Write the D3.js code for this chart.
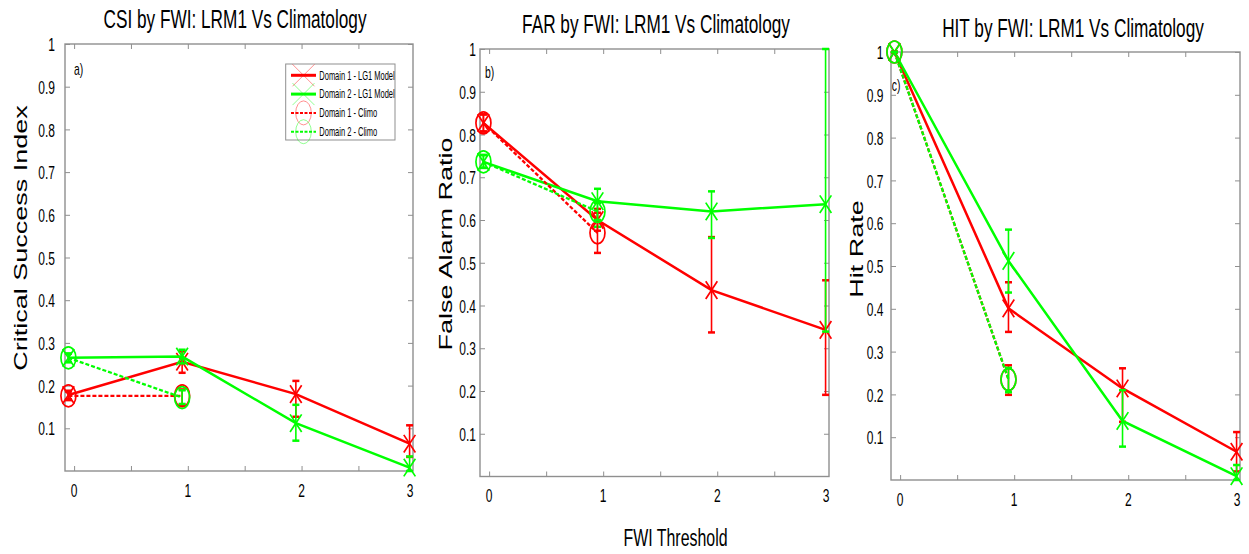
<!DOCTYPE html>
<html><head><meta charset="utf-8">
<script src="https://cdn.jsdelivr.net/npm/d3@7"></script>
<style>
body{margin:0;background:#fff}
svg{display:block}
text{font-family:"Liberation Sans",Arial,Helvetica,sans-serif;fill:#000}
</style>
</head><body>
<svg id="chart" width="1249" height="554"></svg>
<script>
// ---------------- DATA ----------------
const thresholds = [0, 1, 2, 3];
const climoThresholds = [0, 1];
const xTickLabels = ["0", "1", "2", "3"];
const yTickValues = [0.1, 0.2, 0.3, 0.4, 0.5, 0.6, 0.7, 0.8, 0.9, 1.0];
const yTickLabels = ["0.1", "0.2", "0.3", "0.4", "0.5", "0.6", "0.7", "0.8", "0.9", "1"];
const xMinorTicks = [0, 0.5, 1, 1.5, 2, 2.5];
const seriesNames = ["Domain 1 - LG1 Model", "Domain 2 - LG1 Model", "Domain 1 - Climo", "Domain 2 - Climo"];
const panelTitles = ["CSI by FWI: LRM1 Vs Climatology", "FAR by FWI: LRM1 Vs Climatology", "HIT by FWI: LRM1 Vs Climatology"];
const panelYLabels = ["Critical Success Index", "False Alarm Ratio", "Hit Rate"];
const panelLetters = ["a)", "b)", "c)"];
const xAxisLabel = "FWI Threshold";

// CSI
const csiD1Model   = [0.178, 0.256, 0.180, 0.064];
const csiD1ModelLo = [0.168, 0.230, 0.127, 0.033];
const csiD1ModelHi = [0.188, 0.280, 0.211, 0.107];
const csiD2Model   = [0.265, 0.268, 0.112, 0.008];
const csiD2ModelLo = [0.255, 0.252, 0.071, 0.000];
const csiD2ModelHi = [0.275, 0.284, 0.155, 0.034];
const csiD1Climo   = [0.176, 0.176];
const csiD1ClimoLo = [0.166, 0.155];
const csiD1ClimoHi = [0.186, 0.191];
const csiD2Climo   = [0.265, 0.172];
const csiD2ClimoLo = [0.255, 0.157];
const csiD2ClimoHi = [0.275, 0.189];

// FAR
const farD1Model   = [0.827, 0.600, 0.436, 0.343];
const farD1ModelLo = [0.807, 0.575, 0.337, 0.191];
const farD1ModelHi = [0.847, 0.626, 0.560, 0.459];
const farD2Model   = [0.736, 0.644, 0.620, 0.637];
const farD2ModelLo = [0.722, 0.584, 0.558, 0.339];
const farD2ModelHi = [0.752, 0.673, 0.667, 1.000];
const farD1Climo   = [0.827, 0.570];
const farD1ClimoLo = [0.807, 0.523];
const farD1ClimoHi = [0.847, 0.617];
const farD2Climo   = [0.736, 0.620];
const farD2ClimoLo = [0.722, 0.600];
const farD2ClimoHi = [0.752, 0.640];

// HIT
const hitD1Model   = [1.000, 0.401, 0.214, 0.066];
const hitD1ModelLo = [1.000, 0.346, 0.136, 0.020];
const hitD1ModelHi = [1.000, 0.462, 0.261, 0.112];
const hitD2Model   = [1.000, 0.512, 0.138, 0.009];
const hitD2ModelLo = [1.000, 0.438, 0.078, 0.000];
const hitD2ModelHi = [1.000, 0.585, 0.210, 0.035];
const hitD1Climo   = [1.000, 0.235];
const hitD1ClimoLo = [1.000, 0.199];
const hitD1ClimoHi = [1.000, 0.268];
const hitD2Climo   = [1.000, 0.235];
const hitD2ClimoLo = [1.000, 0.205];
const hitD2ClimoHi = [1.000, 0.262];

// ---------------- STYLE / LAYOUT ----------------
const RED = "#ff0000", GREEN = "#00ff00";
const SX = 0.65;            // horizontal text compression seen in the picture
const X_OFFSET = -0.05;     // points sit slightly left of their tick
const xDomain = [-0.08, 2.98];
const FONT = '"Liberation Sans",Arial,Helvetica,sans-serif';

const layout = [
  {left: 65,  top: 44, w: 348, h: 427,   yGap: 10,  ylx: 27,  yly: 238, tx: 235,  ty: 28.3, lx: 74,  ly: 74.5},
  {left: 480, top: 49, w: 349, h: 427.5, yGap: 4,   ylx: 452, yly: 244, tx: 656,  ty: 33.3, lx: 485, ly: 77.5},
  {left: 891, top: 52, w: 349, h: 428,   yGap: 7.5, ylx: 862.5, yly: 249, tx: 1073, ty: 37.3, lx: 891.7, ly: 91}
];

const panelData = [
  [
    {xs: thresholds, v: csiD1Model, lo: csiD1ModelLo, hi: csiD1ModelHi, color: RED, dash: false, marker: "x"},
    {xs: thresholds, v: csiD2Model, lo: csiD2ModelLo, hi: csiD2ModelHi, color: GREEN, dash: false, marker: "x"},
    {xs: climoThresholds, v: csiD1Climo, lo: csiD1ClimoLo, hi: csiD1ClimoHi, color: RED, dash: true, marker: "o"},
    {xs: climoThresholds, v: csiD2Climo, lo: csiD2ClimoLo, hi: csiD2ClimoHi, color: GREEN, dash: true, marker: "o"}
  ],
  [
    {xs: thresholds, v: farD1Model, lo: farD1ModelLo, hi: farD1ModelHi, color: RED, dash: false, marker: "x"},
    {xs: thresholds, v: farD2Model, lo: farD2ModelLo, hi: farD2ModelHi, color: GREEN, dash: false, marker: "x"},
    {xs: climoThresholds, v: farD1Climo, lo: farD1ClimoLo, hi: farD1ClimoHi, color: RED, dash: true, marker: "o"},
    {xs: climoThresholds, v: farD2Climo, lo: farD2ClimoLo, hi: farD2ClimoHi, color: GREEN, dash: true, marker: "o"}
  ],
  [
    {xs: thresholds, v: hitD1Model, lo: hitD1ModelLo, hi: hitD1ModelHi, color: RED, dash: false, marker: "x"},
    {xs: thresholds, v: hitD2Model, lo: hitD2ModelLo, hi: hitD2ModelHi, color: GREEN, dash: false, marker: "x"},
    {xs: climoThresholds, v: hitD1Climo, lo: hitD1ClimoLo, hi: hitD1ClimoHi, color: RED, dash: true, marker: "o"},
    {xs: climoThresholds, v: hitD2Climo, lo: hitD2ClimoLo, hi: hitD2ClimoHi, color: GREEN, dash: true, marker: "o"}
  ]
];

const svg = d3.select("#chart");

function txt(g, x, y, s, size, anchor, rot, sx) {
  const k = sx || SX;
  return g.append("text")
    .attr("font-size", size)
    .attr("text-anchor", anchor || "start")
    .attr("transform", rot
      ? `translate(${x},${y}) rotate(-90) scale(1,${k})`
      : `translate(${x},${y}) scale(${k},1)`)
    .text(s);
}

function xMarkPath(cx, cy, hw, hh) {
  return `M${cx - hw},${cy - hh}L${cx + hw},${cy + hh}M${cx - hw},${cy + hh}L${cx + hw},${cy - hh}`;
}

function drawPanel(pi) {
  const p = layout[pi];
  const g = svg.append("g");
  const x = d3.scaleLinear().domain(xDomain).range([p.left, p.left + p.w]);
  const y = d3.scaleLinear().domain([0, 1]).range([p.top + p.h, p.top]);
  const bottom = p.top + p.h, right = p.left + p.w;

  // box
  g.append("rect").attr("x", p.left).attr("y", p.top).attr("width", p.w).attr("height", p.h)
    .attr("fill", "none").attr("stroke", "#8f8f8f").attr("stroke-width", 1.4);

  // inward ticks
  const tickStyle = sel => { sel.select(".domain").remove(); sel.selectAll("line").attr("stroke", "#8f8f8f").attr("stroke-width", 1); sel.selectAll("text").remove(); };
  g.append("g").attr("transform", `translate(0,${bottom})`).call(d3.axisBottom(x).tickValues(xMinorTicks).tickSize(-5)).call(tickStyle);
  g.append("g").attr("transform", `translate(0,${p.top})`).call(d3.axisTop(x).tickValues(xMinorTicks).tickSize(-5)).call(tickStyle);
  g.append("g").attr("transform", `translate(${p.left},0)`).call(d3.axisLeft(y).tickValues(yTickValues).tickSize(-5)).call(tickStyle);
  g.append("g").attr("transform", `translate(${right},0)`).call(d3.axisRight(y).tickValues(yTickValues).tickSize(-5)).call(tickStyle);

  // y tick labels
  const gy = g.append("g").attr("transform", `translate(${p.left},0)`)
    .call(d3.axisLeft(y).tickValues(yTickValues).tickSize(0).tickPadding(p.yGap).tickFormat((d, i) => yTickLabels[i]));
  gy.select(".domain").remove();
  gy.attr("font-family", FONT).attr("font-size", 18.5);
  gy.selectAll("text").attr("fill", "#111").attr("x", -p.yGap / SX).attr("dy", "0.36em").attr("transform", `scale(${SX},1)`);

  // x tick labels
  const gx = g.append("g").attr("transform", `translate(0,${bottom})`)
    .call(d3.axisBottom(x).tickValues(thresholds).tickSize(0).tickPadding(0).tickFormat((d, i) => xTickLabels[i]));
  gx.select(".domain").remove();
  gx.attr("font-family", FONT).attr("font-size", 18.5);
  gx.selectAll(".tick").attr("transform", d => `translate(${Math.min(x(d), right - 3)},0)`);
  gx.selectAll("text").attr("fill", "#111").attr("y", 26).attr("dy", 0).attr("transform", `scale(${SX},1)`);

  // title, y label, panel letter
  txt(g, p.tx, p.ty, panelTitles[pi], 26.5, "middle");
  txt(g, p.ylx, p.yly, panelYLabels[pi], 27, "middle", true);
  txt(g, p.lx, p.ly, panelLetters[pi], 16, "start");

  // series
  panelData[pi].forEach(s => {
    const px = i => x(s.xs[i] + X_OFFSET);
    const line = d3.line().x((d, i) => px(i)).y(d => y(d));
    g.append("path").datum(s.v).attr("d", line).attr("fill", "none")
      .attr("stroke", s.color).attr("stroke-width", s.dash ? 2.3 : 2.5)
      .attr("stroke-dasharray", s.dash ? "4,2" : null);
    // error bars
    const eb = g.append("g").attr("stroke", s.color);
    eb.selectAll("line.v").data(s.v).join("line").attr("class", "v")
      .attr("x1", (d, i) => px(i)).attr("x2", (d, i) => px(i))
      .attr("y1", (d, i) => y(s.lo[i])).attr("y2", (d, i) => y(s.hi[i])).attr("stroke-width", 1.6);
    eb.selectAll("line.lo").data(s.v).join("line").attr("class", "lo")
      .attr("x1", (d, i) => px(i) - 3.5).attr("x2", (d, i) => px(i) + 3.5)
      .attr("y1", (d, i) => y(s.lo[i])).attr("y2", (d, i) => y(s.lo[i])).attr("stroke-width", 2.5);
    eb.selectAll("line.hi").data(s.v).join("line").attr("class", "hi")
      .attr("x1", (d, i) => px(i) - 3.5).attr("x2", (d, i) => px(i) + 3.5)
      .attr("y1", (d, i) => y(s.hi[i])).attr("y2", (d, i) => y(s.hi[i])).attr("stroke-width", 2.5);
    // markers
    if (s.marker === "x") {
      g.selectAll(null).data(s.v).join("path")
        .attr("d", (d, i) => xMarkPath(px(i), y(d), 5.8, 8.8))
        .attr("fill", "none").attr("stroke", s.color).attr("stroke-width", 1.7);
    } else {
      g.selectAll(null).data(s.v).join("ellipse")
        .attr("cx", (d, i) => px(i)).attr("cy", d => y(d)).attr("rx", 7.5).attr("ry", 11)
        .attr("fill", "none").attr("stroke", s.color).attr("stroke-width", 1.7);
    }
  });

  return {x, y};
}

[0, 1, 2].forEach(drawPanel);

// legend (panel a)
const lg = svg.append("g");
lg.append("rect").attr("x", 285.7).attr("y", 64).attr("width", 109.3).attr("height", 76)
  .attr("fill", "#fff").attr("stroke", "#8f8f8f").attr("stroke-width", 1);
const legendRows = d3.range(4).map(i => ({
  name: seriesNames[i],
  color: panelData[0][i].color,
  dash: panelData[0][i].dash,
  marker: panelData[0][i].marker,
  y: 75.3 + i * 18.8
}));
legendRows.forEach(r => {
  lg.append("line").attr("x1", 291).attr("x2", 316).attr("y1", r.y).attr("y2", r.y)
    .attr("stroke", r.color).attr("stroke-width", r.dash ? 2 : 3)
    .attr("stroke-dasharray", r.dash ? "3,1.5" : null);
  if (r.marker === "x") {
    lg.append("path").attr("d", xMarkPath(303.5, r.y, 11, 11)).attr("fill", "none")
      .attr("stroke", r.color).attr("stroke-width", 0.8).attr("opacity", 0.55);
  } else {
    lg.append("ellipse").attr("cx", 303.5).attr("cy", r.y).attr("rx", 7.8).attr("ry", 12)
      .attr("fill", "none").attr("stroke", r.color).attr("stroke-width", 0.8).attr("opacity", 0.55);
  }
  txt(lg, 319.3, r.y + 4.3, r.name, 12.5, "start", false, 0.6);
});

// shared x label
txt(svg, 675.5, 546, xAxisLabel, 24.5, "middle");
</script>
</body></html>
